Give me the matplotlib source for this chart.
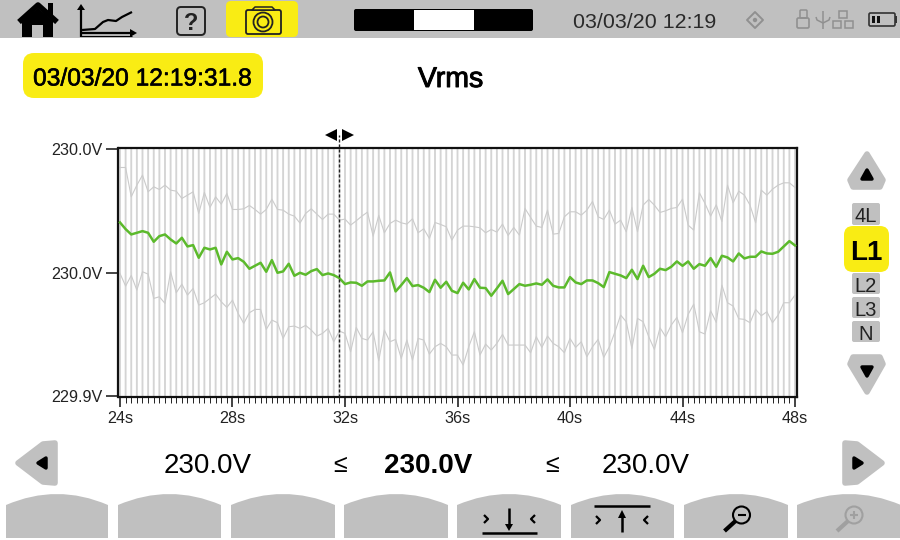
import numpy as np
import matplotlib
matplotlib.use("Agg")
import matplotlib.pyplot as plt
import matplotlib.patheffects as pe
from matplotlib.patches import FancyBboxPatch, Polygon, Circle, Rectangle, PathPatch
from matplotlib.path import Path
from matplotlib.ticker import FixedLocator, FuncFormatter

plt.rcParams['font.family'] = ['Liberation Sans', 'DejaVu Sans']

# Data, millivolts relative to 230 V, one sample every 0.2 s from 24 s
T_START = 24.0
SAMPLE_S = 0.2
NOMINAL_V = 230.0
avg_mv = [0.3,-1.7,-3.3,-2.8,-2.3,-2.8,-5.5,-3.8,-3.3,-4.8,-6.0,-4.3,-6.9,-6.5,-10.3,-7.3,-7.8,-7.3,-12.3,-8.5,
 -10.8,-10.4,-11.5,-13.6,-12.7,-11.8,-14.5,-11.0,-14.8,-14.4,-12.1,-15.7,-14.8,-15.4,-14.3,-13.7,-15.5,-15.0,-15.5,-16.4,
 -18.2,-17.7,-17.8,-18.7,-17.4,-17.4,-17.2,-17.1,-14.7,-20.4,-18.5,-16.4,-18.8,-18.5,-19.3,-20.6,-16.9,-19.3,-17.5,-20.2,
 -20.9,-17.8,-19.8,-16.7,-19.3,-19.4,-21.7,-19.5,-17.2,-21.2,-19.7,-18.2,-18.7,-18.4,-18.0,-18.4,-16.8,-18.7,-19.2,-19.2,
 -16.1,-17.7,-18.2,-17.1,-17.1,-17.9,-19.1,-14.6,-15.1,-15.6,-16.4,-13.9,-16.7,-12.7,-16.1,-15.1,-13.6,-14.0,-13.0,-11.4,
 -12.7,-11.4,-13.6,-12.2,-12.7,-10.4,-13.0,-9.7,-10.2,-11.4,-9.0,-10.5,-10.0,-10.0,-8.4,-9.0,-9.1,-8.5,-6.9,-5.3,-6.6]
max_mv = [16.8,16.8,8.0,11.5,14.5,9.5,11.0,10.2,11.5,10.0,9.7,7.5,8.5,9.5,3.0,9.3,4.8,8.0,5.8,9.0,
 4.2,4.2,4.4,5.4,4.2,2.8,4.2,7.3,4.2,4.0,2.8,2.2,0.1,3.0,4.4,2.8,1.2,2.8,2.8,1.0,
 1.3,-0.5,0.8,2.2,3.4,-3.8,2.4,-2.8,0.0,1.0,0.2,-0.2,1.4,-2.8,-1.6,-4.5,0.3,-0.3,-1.0,-5.0,
 -2.0,-0.8,-0.8,-1.0,-1.3,-2.8,-1.8,-2.6,-0.2,-3.6,-1.2,-3.5,4.5,1.8,-0.8,-1.2,4.0,-3.2,-3.0,2.0,
 3.5,3.5,2.5,4.0,6.6,2.0,1.2,4.0,-0.2,1.0,-2.5,4.8,-2.5,5.5,7.2,5.5,3.3,3.8,4.5,4.8,
 7.3,-0.5,-2.0,9.2,6.0,2.2,5.6,0.6,11.5,6.2,9.7,8.5,5.5,0.2,10.0,8.5,10.3,11.5,12.2,12.2,10.8]
min_mv = [-15.0,-18.8,-15.6,-20.0,-14.5,-15.2,-22.5,-22.0,-24.0,-14.5,-20.8,-18.2,-21.5,-19.5,-24.5,-23.8,-22.5,-21.2,-23.5,-25.2,
 -23.0,-27.0,-30.0,-26.8,-25.8,-25.8,-31.8,-29.0,-29.8,-34.5,-31.0,-30.8,-31.5,-30.6,-32.0,-33.8,-33.0,-31.5,-35.5,-32.3,
 -33.0,-38.5,-31.2,-34.5,-35.0,-32.5,-41.2,-32.0,-35.5,-34.8,-40.5,-35.0,-41.0,-34.5,-35.0,-39.2,-37.0,-36.0,-37.0,-39.5,
 -39.5,-42.5,-37.0,-32.5,-39.5,-36.2,-38.0,-36.0,-33.3,-36.5,-36.5,-36.5,-36.5,-38.8,-34.0,-37.2,-33.8,-36.0,-37.0,-38.8,
 -34.5,-37.2,-35.5,-40.0,-37.0,-34.8,-40.2,-37.0,-32.5,-27.5,-29.5,-37.5,-28.5,-29.5,-34.0,-37.8,-31.3,-34.0,-30.5,-28.2,
 -32.8,-27.3,-24.2,-32.5,-33.2,-26.2,-29.7,-18.5,-23.8,-24.8,-28.6,-28.8,-29.8,-25.8,-27.7,-26.5,-29.8,-27.5,-23.8,-23.8,-21.5]
y_ticks = [229.9482, 229.985, 230.0223]
x_ticks = [24, 28, 32, 36, 40, 44, 48]
cursor_s = 31.8
readings = ["230.0V", "230.0V", "230.0V"]
stamp = "03/03/20 12:19:31.8"
clock = "03/03/20 12:19"
title = "Vrms"

YEL = '#f9ec14'
GR = '#c0c0c0'
W, H = 900, 540

fig = plt.figure(figsize=(9, 5.4), dpi=100, facecolor='white')
ui = fig.add_axes([0, 0, 1, 1])
ui.set_xlim(0, W); ui.set_ylim(H, 0); ui.axis('off')


def rbox(x0, y0, x1, y1, r, fc, ec='none', lw=0, z=2):
    ui.add_patch(FancyBboxPatch((x0 + r, y0 + r), x1 - x0 - 2 * r, y1 - y0 - 2 * r,
                                boxstyle=f"round,pad={r},rounding_size={r}", fc=fc, ec=ec, lw=lw, zorder=z))


def poly(pts, fc, ec='none', lw=0, z=3, join='round'):
    ui.add_patch(Polygon(pts, closed=True, fc=fc, ec=ec, lw=lw, zorder=z, joinstyle=join))


def line(xs, ys, c='black', lw=1.5, z=4, cap='butt'):
    ui.plot(xs, ys, color=c, lw=lw, zorder=z, solid_capstyle=cap, solid_joinstyle='round')


def txt(x, y, s, size, c='black', w='normal', ha='center', stroke=0):
    t_ = ui.text(x, y, s, fontsize=size, color=c, fontweight=w, ha=ha, va='center_baseline', zorder=5)
    if stroke:
        t_.set_path_effects([pe.withStroke(linewidth=stroke, foreground=c)])


# Top bar
ui.add_patch(Rectangle((0, 0), W, 38, fc=GR, ec='none', zorder=1))
# home
line([19, 38, 57], [22, 5, 22], lw=4.0)
poly([(22, 21), (38, 8), (53, 21), (53, 37), (43, 37), (43, 25), (32, 25), (32, 37), (22, 37)], 'black')
ui.add_patch(Rectangle((48, 3), 5, 13, fc='black', zorder=3))
# chart icon
line([81, 81], [8, 37], lw=1.6)
line([80, 132], [33, 33], lw=1.6)
line([80, 132], [36, 36], lw=0.8)
poly([(77, 10), (81, 4), (85, 10)], 'black')
poly([(130, 29), (137, 33), (130, 37)], 'black')
line([82, 95, 103, 108, 116, 122, 132], [30, 29, 22, 20, 21, 17, 12], lw=1.6)
# help
rbox(177, 7, 205, 35, 4, 'none', ec='#222222', lw=1.4, z=3)
txt(191, 21, '?', 17, w='bold', c='#222222')
# camera
rbox(226, 1, 298, 37, 5, YEL)
rbox(246, 10, 281, 34, 2, 'none', ec='#222222', lw=1.3, z=3)
poly([(252, 10), (255, 7), (272, 7), (275, 10)], YEL, ec='#222222', lw=1.1)
ui.add_patch(Circle((263, 22), 9.5, fc='none', ec='#222222', lw=1.3, zorder=4))
ui.add_patch(Circle((263, 22), 5.5, fc='none', ec='#222222', lw=1.3, zorder=4))
# progress
rbox(354, 9, 533, 31, 2, 'black')
ui.add_patch(Rectangle((414, 10), 60, 20, fc='white', zorder=3))
txt(644.5, 20.5, clock, 15.4, c='#2a2a2a')
# status icons
poly([(755, 12), (763, 20), (755, 28), (747, 20)], 'none', ec='#909090', lw=1.4)
ui.add_patch(Circle((755, 20), 2.2, fc='#909090', zorder=4))
rbox(797, 18, 809, 28, 1.5, 'none', ec='#909090', lw=1.2, z=3)
rbox(800, 10, 807, 18, 1, 'none', ec='#909090', lw=1.1, z=3)
line([823, 823], [11, 29], c='#909090', lw=1.1)
line([816, 817, 823, 829, 830], [17, 20, 23, 20, 17], c='#909090', lw=1.1)
for (x, y) in [(843, 14), (837, 24), (849, 24)]:
    ui.add_patch(Rectangle((x - 4, y - 3.5), 8, 7, fc='none', ec='#909090', lw=1.1, zorder=3))
rbox(869, 13, 895, 26, 1.5, 'none', ec='#333333', lw=1.2, z=3)
ui.add_patch(Rectangle((895, 16), 2, 7, fc='#333333', zorder=3))
ui.add_patch(Rectangle((872, 16), 3, 7, fc='#111111', zorder=4))
ui.add_patch(Rectangle((877, 16), 3, 7, fc='#111111', zorder=4))

# Stamp and title
rbox(23, 53, 263, 98, 11, YEL)
txt(143, 76, stamp, 17.7, stroke=0.4)
txt(450.5, 77, title, 20.5, stroke=0.7)

# Right column
poly([(867, 154), (883, 180), (880, 187), (853, 187), (850, 180)], GR, ec=GR, lw=4)
poly([(867, 170), (872, 179), (862, 179)], 'black', ec='black', lw=2.5)
poly([(853, 357), (880, 357), (883, 364), (867, 392), (850, 364)], GR, ec=GR, lw=4)
poly([(862, 367), (872, 367), (867, 376)], 'black', ec='black', lw=2.5)
for (y0, y1, s) in [(203, 225, '4L'), (273, 294, 'L2'), (297, 318, 'L3'), (321, 342, 'N')]:
    rbox(852, y0, 880, y1, 2, GR)
    txt(866, (y0 + y1) / 2 + 0.5, s, 14.5, c='#222222')
rbox(844, 226, 889, 272, 9, YEL)
txt(866, 250, 'L1', 20, w='bold')

# Reading row
poly([(18, 463), (43, 444), (55, 443), (55, 483), (43, 482)], GR, ec=GR, lw=4)
poly([(38, 463), (46, 458), (46, 468)], 'black', ec='black', lw=2.5)
poly([(845, 443), (857, 444), (882, 463), (857, 482), (845, 483)], GR, ec=GR, lw=4)
poly([(854, 458), (862, 463), (854, 468)], 'black', ec='black', lw=2.5)
txt(207.5, 463, readings[0], 20)
txt(428, 463, readings[1], 20, w='bold')
txt(646, 463, readings[2], 20)
txt(340, 463, '≤', 18)
txt(552, 463, '≤', 18)

# Soft keys
for x0, x1 in [(6, 108), (118, 221), (231, 335), (344, 448), (457, 561), (571, 674), (684, 788), (797, 901)]:
    xm = (x0 + x1) / 2
    verts = [(x0, 538), (x0, 505), (xm, 483), (x1, 505), (x1, 538), (x0, 538)]
    codes = [Path.MOVETO, Path.LINETO, Path.CURVE3, Path.CURVE3, Path.LINETO, Path.CLOSEPOLY]
    ui.add_patch(PathPatch(Path(verts, codes), fc=GR, ec='none', zorder=2))


def chevrons(xl, xr, y):
    line([xl - 2, xl + 2, xl - 2], [y - 4, y, y + 4], lw=1.6)
    line([xr + 2, xr - 2, xr + 2], [y - 4, y, y + 4], lw=1.6)


line([482, 537], [533, 533], lw=1.8)
line([509, 509], [508, 526], lw=1.8)
poly([(505, 524), (513, 524), (509, 531)], 'black')
chevrons(486, 533, 519)
line([594, 650], [506, 506], lw=1.8)
line([622, 622], [516, 532], lw=1.8)
poly([(618, 518), (626, 518), (622, 510)], 'black')
chevrons(598, 646, 520)
for cx, col, plus in [(741.5, 'black', False), (854, '#a0a0a0', True)]:
    ui.add_patch(Circle((cx, 515), 8.5, fc='none', ec=col, lw=1.5, zorder=4))
    line([cx - 6, cx - 17], [521, 531], c=col, lw=3.0)
    line([cx - 4, cx + 4], [515, 515], c=col, lw=1.5)
    if plus:
        line([cx, cx], [511, 519], c=col, lw=1.5)

# Cursor markers
poly([(325, 135), (337, 129), (337, 141)], 'black')
poly([(354, 135), (342, 129), (342, 141)], 'black')

# Chart
ax = fig.add_axes([118.5 / W, 1 - 396.7 / H, 678 / W, 249.2 / H], zorder=10)
avg = NOMINAL_V + np.array(avg_mv) / 1000
vmax = NOMINAL_V + np.array(max_mv) / 1000
vmin = NOMINAL_V + np.array(min_mv) / 1000
t = T_START + SAMPLE_S * np.arange(len(avg))
ax.set_xlim(23.947, 48.053)
ax.set_ylim(229.948, 230.0228)
grid = ax.vlines(t, 229.948, 230.0228, color='#d4d4d4', lw=1.35, zorder=1)
grid.set_snap(False)
ax.plot(t, vmax, color='#cbcbcb', lw=0.8, zorder=2)
ax.plot(t, vmin, color='#cbcbcb', lw=0.8, zorder=2)
ax.plot(t, avg, color='#5cba2c', lw=1.8, zorder=3, solid_joinstyle='round')
ax.axvline(cursor_s, ymin=0, ymax=1.05, color='#222222', lw=1.0, ls=(0, (2.2, 1.4)), clip_on=False, zorder=4)
ax.xaxis.set_major_locator(FixedLocator(x_ticks))
ax.xaxis.set_minor_locator(FixedLocator(t))
ax.xaxis.set_major_formatter(FuncFormatter(lambda v, p: f"{v:.0f}s"))
ax.yaxis.set_major_locator(FixedLocator(y_ticks))
ax.yaxis.set_major_formatter(FuncFormatter(lambda v, p: f"{v:.1f}V"))
ax.tick_params(axis='x', which='major', length=7.5, width=1.1, labelsize=11.6, pad=2.5, color='#111111', labelcolor='#222222')
ax.tick_params(axis='x', which='minor', length=4, width=0.7, color='#222222')
ax.tick_params(axis='y', which='major', length=8.5, width=1.1, labelsize=11.6, pad=3, color='#111111', labelcolor='#222222')
for s in ax.spines.values():
    s.set_linewidth(1.6)
    s.set_color('#111111')

fig.savefig('out.png', dpi=100)
